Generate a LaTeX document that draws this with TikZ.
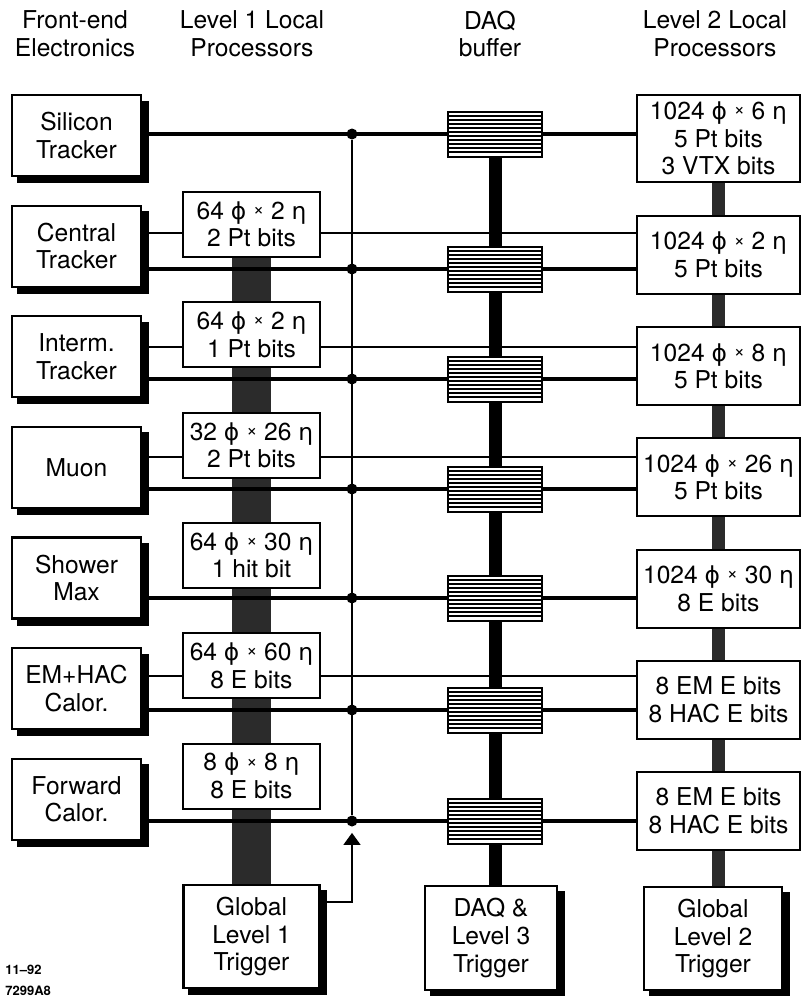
\documentclass[tikz,border=0pt]{standalone}
\usepackage{fontspec}
\setmainfont{TeX Gyre Heros}
\newfontfamily\grkfont[Scale=0.95]{DejaVu Sans}
\usepackage{tikz}
\usetikzlibrary{arrows.meta,positioning,calc,backgrounds}
\definecolor{TrigBar}{HTML}{2B2B2B}
\newcommand{\gph}{{\grkfont ϕ}}
\newcommand{\geta}{{\grkfont η}}
\newcommand{\tms}{\raisebox{0.3ex}{\fontsize{9.5}{9.5}\selectfont ×}}
\newcommand{\lab}{\fontsize{12.3}{13.8}\selectfont}

\begin{document}
\begin{tikzpicture}[x=0.5pt,y=-0.5pt,
    hdr/.style={align=center,inner sep=0pt,font=\lab},
    fe/.style={draw,line width=1.1pt,fill=white,minimum width=64.5pt,minimum height=40.5pt,align=center,inner sep=0pt,font=\lab},
    trig/.style={fe,minimum width=68pt,minimum height=51.5pt},
    lp/.style={draw,line width=1pt,fill=white,minimum width=68.5pt,minimum height=32.5pt,align=center,inner sep=0pt,font=\lab},
    lq/.style={lp,minimum width=81.5pt,minimum height=39pt},
    hatch/.style={draw,line width=1pt,fill=white,minimum width=47pt,minimum height=22.5pt,inner sep=0pt,
      path picture={\foreach \k in {1,...,10}{\draw[line width=0.95pt]
        ($(path picture bounding box.south west)!\k/11!(path picture bounding box.north west)$) --
        ($(path picture bounding box.south east)!\k/11!(path picture bounding box.north east)$);}}},
    tap/.style={circle,fill=black,inner sep=0pt,minimum size=5.5pt},
    sig/.style={line width=0.75pt},
    bus/.style={line width=1.6pt},
    bar/.style={line width=19.5pt,TrigBar}
  ]
  \useasboundingbox (0,0) rectangle (805,997);
  % shadows of the heavy boxes
  \fill[black] (17,101) rectangle (149,183);
  \fill[black] (17,211) rectangle (149,294);
  \fill[black] (17,322) rectangle (149,404);
  \fill[black] (17,432) rectangle (149,515);
  \fill[black] (17,543) rectangle (149,626);
  \fill[black] (17,654) rectangle (149,736);
  \fill[black] (17,764) rectangle (149,847);
  \fill[black] (188,890) rectangle (327,995);
  \fill[black] (430,891) rectangle (565,996);
  \fill[black] (649,892) rectangle (790,996);
  % column headings
  \node[hdr] (h1) at (75,34) {Front-end\\Electronics};
  \node[hdr] (h2) at (252,34) {Level 1 Local\\Processors};
  \node[hdr] (h3) at (490,34) {DAQ\\buffer};
  \node[hdr] (h4) at (715,34) {Level 2 Local\\Processors};
  % front-end electronics
  \node[fe] (fe1) at (76.5,135.5) {Silicon\\Tracker};
  \node[fe,below=13.7pt of fe1] (fe2) {Central\\Tracker};
  \node[fe,below=13.7pt of fe2] (fe3) {Interm.\\Tracker};
  \node[fe,below=13.7pt of fe3] (fe4) {Muon};
  \node[fe,below=13.7pt of fe4] (fe5) {Shower\\Max};
  \node[fe,below=13.7pt of fe5] (fe6) {EM+HAC\\Calor.};
  \node[fe,below=13.7pt of fe6] (fe7) {Forward\\Calor.};
  % level 1 local processors
  \node[lp] (lp2) at (251.5,224.5) {64 \gph{} \tms{} 2 \geta\\2 Pt bits};
  \node[lp,below=21.65pt of lp2] (lp3) {64 \gph{} \tms{} 2 \geta\\1 Pt bits};
  \node[lp,below=21.65pt of lp3] (lp4) {32 \gph{} \tms{} 26 \geta\\2 Pt bits};
  \node[lp,below=21.65pt of lp4] (lp5) {64 \gph{} \tms{} 30 \geta\\1 hit bit};
  \node[lp,below=21.65pt of lp5] (lp6) {64 \gph{} \tms{} 60 \geta\\8 E bits};
  \node[lp,below=21.65pt of lp6] (lp7) {8 \gph{} \tms{} 8 \geta\\8 E bits};
  \node[trig] (gl1) at (251.5,936.5) {Global\\Level 1\\Trigger};
  % taps on the level 1 line
  \node[tap] (dt1) at (352,134) {}; \node[tap] (dt2) at (352,269) {}; \node[tap] (dt3) at (352,379) {};
  \node[tap] (dt4) at (352,489) {}; \node[tap] (dt5) at (352,598) {}; \node[tap] (dt6) at (352,710) {};
  \node[tap] (dt7) at (352,821) {};
  \coordinate (ga) at (352,902);
  % DAQ buffers
  \node[hatch] (hb1) at (495,134) {}; \node[hatch] (hb2) at (495,269) {}; \node[hatch] (hb3) at (495,379) {};
  \node[hatch] (hb4) at (495,489) {}; \node[hatch] (hb5) at (495,598) {}; \node[hatch] (hb6) at (495,710) {};
  \node[hatch] (hb7) at (495,821) {};
  \node[trig,minimum width=66pt,minimum height=52pt] (daq) at (491,938) {DAQ \&\\Level 3\\Trigger};
  % level 2 local processors
  \node[lq,minimum height=43.5pt] (lq1) at (718.5,138.5) {1024 \gph{} \tms{} 6 \geta\\5 Pt bits\\3 VTX bits};
  \node[lq] (lq2) at (718.5,255) {1024 \gph{} \tms{} 2 \geta\\5 Pt bits};
  \node[lq,below=15.6pt of lq2] (lq3) {1024 \gph{} \tms{} 8 \geta\\5 Pt bits};
  \node[lq,below=15.6pt of lq3] (lq4) {1024 \gph{} \tms{} 26 \geta\\5 Pt bits};
  \node[lq,below=15.6pt of lq4] (lq5) {1024 \gph{} \tms{} 30 \geta\\8 E bits};
  \node[lq,below=15.6pt of lq5] (lq6) {8 EM E bits\\8 HAC E bits};
  \node[lq,below=15.6pt of lq6] (lq7) {8 EM E bits\\8 HAC E bits};
  \node[trig,minimum width=69pt] (gl2) at (713,938.5) {Global\\Level 2\\Trigger};
  % drawing number
  \node[anchor=base west,inner sep=0pt,font=\fontsize{6.5}{8}\selectfont\bfseries] (dat) at (5,974) {11--92};
  \node[anchor=base west,inner sep=0pt,font=\fontsize{6.5}{8}\selectfont\bfseries] (fig) at (5,995) {7299A8};
  % bars and wires behind the boxes
  \begin{scope}[on background layer]
    \draw[bar] (lp2) -- (gl1);
    \draw[line width=6.5pt] (hb1) -- (hb1 |- daq.north);
    \draw[bar,line width=6.5pt] (lq1) -- (lq1 |- gl2.north);
    \coordinate (tn2) at (352,233); \coordinate (tn3) at (352,347);
    \coordinate (tn4) at (352,457); \coordinate (tn6) at (352,676);
    \draw[sig] (tn2 -| fe2.east) -- (tn2 -| lp2.west); \draw[sig] (tn2 -| lp2.east) -- (tn2 -| lq2.west);
    \draw[sig] (tn3 -| fe3.east) -- (tn3 -| lp3.west); \draw[sig] (tn3 -| lp3.east) -- (tn3 -| lq3.west);
    \draw[sig] (tn4 -| fe4.east) -- (tn4 -| lp4.west); \draw[sig] (tn4 -| lp4.east) -- (tn4 -| lq4.west);
    \draw[sig] (tn6 -| fe6.east) -- (tn6 -| lp6.west); \draw[sig] (tn6 -| lp6.east) -- (tn6 -| lq6.west);
    \draw[bus] (dt1 -| fe1.east) -- (dt1 -| lq1.west); \draw[bus] (dt2 -| fe2.east) -- (dt2 -| lq2.west);
    \draw[bus] (dt3 -| fe3.east) -- (dt3 -| lq3.west); \draw[bus] (dt4 -| fe4.east) -- (dt4 -| lq4.west);
    \draw[bus] (dt5 -| fe5.east) -- (dt5 -| lq5.west); \draw[bus] (dt6 -| fe6.east) -- (dt6 -| lq6.west);
    \draw[bus] (dt7 -| fe7.east) -- (dt7 -| lq7.west);
    \draw[sig] (dt1) -- (dt7);
    \draw[sig,-{Triangle[length=6pt,width=8.5pt]},shorten >=3pt] (gl1.east |- ga) -- (ga) -- (dt7);
  \end{scope}
\end{tikzpicture}
\end{document}
